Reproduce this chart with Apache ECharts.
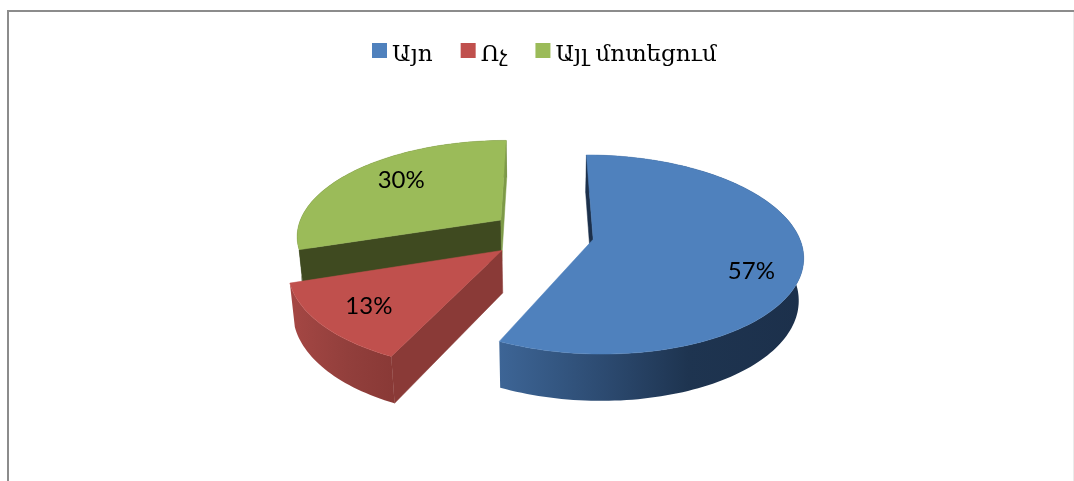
<!DOCTYPE html>
<html>
<head>
<meta charset="utf-8">
<style>
html, body { margin: 0; padding: 0; background: #fff; }
#chart { width: 1074px; height: 481px; }
</style>
<script src="https://cdn.jsdelivr.net/npm/echarts@6/dist/echarts.min.js"></script>
</head>
<body>
<div id="chart"></div>
<script>
var categories = ['Այո', 'Ոչ', 'Այլ մոտեցում'];
var values = [57, 13, 30];
var colors = ['#4F81BD', '#C0504D', '#9BBB59'];

// wall colours, same order as categories
var wallStops = [
    [[0, '#3D6596'], [0.35, '#2C4A70'], [0.62, '#1E3450'], [1, '#1C304B']],
    [[0, '#A54744'], [0.55, '#923F3C'], [1, '#893936']],
    [[0, '#3F4A20'], [1, '#3F4A20']]
];
var faceColors = [
    { start: '#1C304B', end: '#1C304B' },
    { start: '#8A3A37', end: '#8A3A37' },
    { start: '#3F4A20', end: '#7D9A47' }
];
var zOrder = [3, 2, 1];
var labelShift = [[-9, 14], [8, -2], [19, 0]];

// fake 3d camera, fitted against the picture
var cx = 542, cy = 234;
var R = 205, explode = 52, thick = 48;
var tilt = 27.8 * Math.PI / 180, dist = 1200;

function project(x, z, h) {
    var up = h * Math.cos(tilt) - z * Math.sin(tilt);
    var depth = h * Math.sin(tilt) + z * Math.cos(tilt);
    var s = dist / (dist - depth);
    return [cx + x * s, cy - up * s];
}

var total = values.reduce(function (a, b) { return a + b; }, 0);

function sliceAngles(index) {
    var before = 0;
    for (var i = 0; i < index; i++) before += values[i];
    return [before / total * Math.PI * 2, (before + values[index]) / total * Math.PI * 2];
}

function poly(points, fill, stroke) {
    return {
        type: 'polygon',
        shape: { points: points },
        style: { fill: fill, stroke: stroke || fill, lineWidth: 0.5 }
    };
}

// sign of the screen winding tells if a cut face looks at the camera
function winding(a, b, c) {
    return (b[0] - a[0]) * (c[1] - a[1]) - (b[1] - a[1]) * (c[0] - a[0]);
}

function renderSlice(params, api) {
    var index = params.seriesIndex;
    var range = sliceAngles(index);
    var mid = (range[0] + range[1]) / 2;
    var ox = Math.sin(mid) * explode;
    var oz = -Math.cos(mid) * explode;

    var rim = function (h) {
        var pts = [];
        var steps = Math.ceil((range[1] - range[0]) * 40);
        for (var i = 0; i <= steps; i++) {
            var a = range[0] + (range[1] - range[0]) * i / steps;
            pts.push(project(ox + Math.sin(a) * R, oz - Math.cos(a) * R, h));
        }
        return pts;
    };
    var topRim = rim(0);
    var lowRim = rim(-thick);
    var apexTop = project(ox, oz, 0);
    var apexLow = project(ox, oz, -thick);
    var last = topRim.length - 1;

    var children = [
        poly(topRim.concat(lowRim.slice().reverse()),
            new echarts.graphic.LinearGradient(0, 0, 1, 0, wallStops[index].map(function (s) {
                return { offset: s[0], color: s[1] };
            })), 'none')
    ];
    if (winding(apexTop, topRim[0], lowRim[0]) < 0) {
        children.push(poly([apexTop, topRim[0], lowRim[0], apexLow], faceColors[index].start));
    }
    if (winding(apexTop, topRim[last], lowRim[last]) > 0) {
        children.push(poly([apexTop, topRim[last], lowRim[last], apexLow], faceColors[index].end));
    }
    children.push(poly([apexTop].concat(topRim), colors[index]));

    var labelAt = project(ox + Math.sin(mid) * R * 0.8, oz - Math.cos(mid) * R * 0.8, 0);
    children.push({
        type: 'text',
        z2: 10,
        style: {
            x: labelAt[0] + labelShift[index][0],
            y: labelAt[1] + labelShift[index][1],
            text: api.value(0) + '%',
            fill: '#000',
            font: '24px Lato, "Open Sans", sans-serif',
            align: 'center',
            verticalAlign: 'middle'
        }
    });
    return { type: 'group', children: children };
}

var option = {
    animation: false,
    legend: {
        data: categories,
        left: 367,
        top: 38,
        icon: 'rect',
        itemWidth: 15,
        itemHeight: 15,
        itemGap: 28,
        selectedMode: false,
        formatter: function (name) {
            return '{t|' + name + '}';
        },
        textStyle: {
            rich: {
                t: {
                    fontFamily: '"DejaVu Serif", "DejaVu Sans"',
                    fontSize: 23,
                    color: '#000',
                    padding: [10, 0, 0, 0]
                }
            }
        }
    },
    graphic: [
        {
            type: 'polyline',
            shape: { points: [[8, 481], [8, 11], [1074, 11]] },
            style: { fill: 'none', stroke: '#8C8C8C', lineWidth: 2 }
        },
        {
            type: 'line',
            shape: { x1: 1073.5, y1: 12, x2: 1073.5, y2: 481 },
            style: { stroke: '#EBEBEB', lineWidth: 1 }
        }
    ],
    series: categories.map(function (name, i) {
        return {
            type: 'custom',
            name: name,
            coordinateSystem: 'none',
            z: zOrder[i],
            itemStyle: { color: colors[i] },
            renderItem: renderSlice,
            data: [[values[i]]]
        };
    })
};

var myChart = echarts.init(document.getElementById('chart'));
myChart.setOption(option);
</script>
</body>
</html>
